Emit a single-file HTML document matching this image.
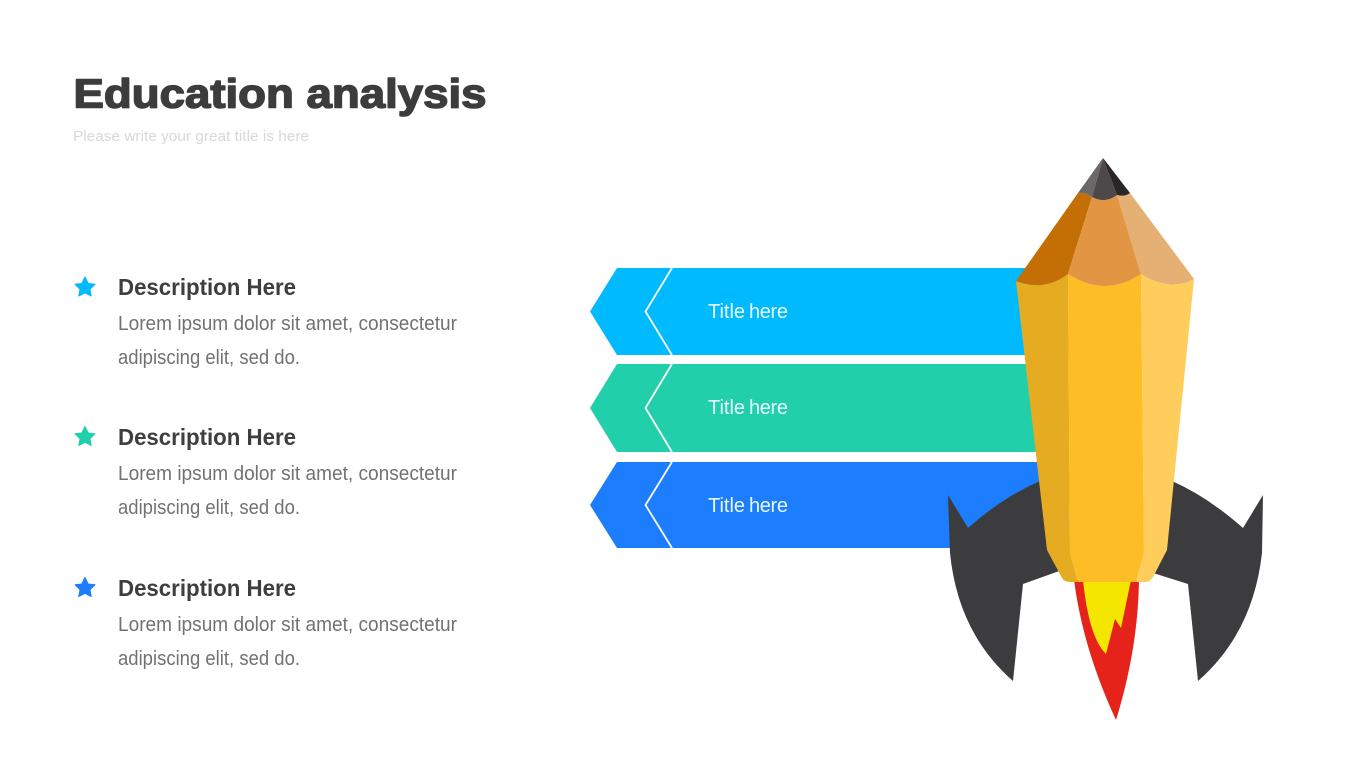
<!DOCTYPE html>
<html lang="en">
<head>
<meta charset="utf-8">
<title>Education analysis</title>
<style>
html,body{margin:0;padding:0;background:#fff;width:1365px;height:768px;overflow:hidden}
svg{display:block}
text{font-family:"Liberation Sans",sans-serif}
.h{font-size:23px;font-weight:700;fill:#3e3e3e}
.b{font-size:20px;fill:#727272}
.t{font-size:20px;fill:#e6f8ff}
</style>
</head>
<body>
<svg width="1365" height="768" viewBox="0 0 1365 768" xmlns="http://www.w3.org/2000/svg">
<rect width="1365" height="768" fill="#fff"/>

<text x="73.500" y="107.500" font-size="41" font-weight="700" fill="#3c3c3c" stroke="#3c3c3c" stroke-width="1.500" stroke-linejoin="round" textLength="413" lengthAdjust="spacingAndGlyphs">Education analysis</text>
<text x="73" y="141" font-size="14.500" fill="#d8d8d8" textLength="236" lengthAdjust="spacingAndGlyphs">Please write your great title is here</text>

<g stroke-linejoin="round" stroke-width="1">
<path transform="translate(85 287.500)" d="M0-10.500L3.200-4L10-3.200L5 1.700L6.200 8.500L0 5.300L-6.200 8.500L-5 1.700L-10-3.200L-3.200-4Z" fill="#00baff" stroke="#00baff"/>
<path transform="translate(85 437)" d="M0-10.500L3.200-4L10-3.200L5 1.700L6.200 8.500L0 5.300L-6.200 8.500L-5 1.700L-10-3.200L-3.200-4Z" fill="#21cfab" stroke="#21cfab"/>
<path transform="translate(85 588)" d="M0-10.500L3.200-4L10-3.200L5 1.700L6.200 8.500L0 5.300L-6.200 8.500L-5 1.700L-10-3.200L-3.200-4Z" fill="#1c7eff" stroke="#1c7eff"/>
</g>

<text class="h" x="118" y="295" textLength="178" lengthAdjust="spacingAndGlyphs">Description Here</text>
<text class="b" x="118" y="330" textLength="339" lengthAdjust="spacingAndGlyphs">Lorem ipsum dolor sit amet, consectetur</text>
<text class="b" x="118" y="364" textLength="182" lengthAdjust="spacingAndGlyphs">adipiscing elit, sed do.</text>

<text class="h" x="118" y="445" textLength="178" lengthAdjust="spacingAndGlyphs">Description Here</text>
<text class="b" x="118" y="480" textLength="339" lengthAdjust="spacingAndGlyphs">Lorem ipsum dolor sit amet, consectetur</text>
<text class="b" x="118" y="514" textLength="182" lengthAdjust="spacingAndGlyphs">adipiscing elit, sed do.</text>

<text class="h" x="118" y="596" textLength="178" lengthAdjust="spacingAndGlyphs">Description Here</text>
<text class="b" x="118" y="631" textLength="339" lengthAdjust="spacingAndGlyphs">Lorem ipsum dolor sit amet, consectetur</text>
<text class="b" x="118" y="665" textLength="182" lengthAdjust="spacingAndGlyphs">adipiscing elit, sed do.</text>

<path d="M617 268H1040V355H617L590 311.500Z" fill="#00baff"/>
<path d="M672 268L645.500 311.500L672 355" fill="none" stroke="#fff" stroke-width="1.800"/>
<path d="M617 364H1050V452H617L590 408Z" fill="#21cfab"/>
<path d="M672 364L645.500 408L672 452" fill="none" stroke="#fff" stroke-width="1.800"/>
<path d="M617 462H1050V548H617L590 505Z" fill="#1c7eff"/>
<path d="M672 462L645.500 505L672 548" fill="none" stroke="#fff" stroke-width="1.800"/>

<text class="t" y="318"><tspan x="708">Title</tspan><tspan x="749" textLength="39">here</tspan></text>
<text class="t" y="414"><tspan x="708">Title</tspan><tspan x="749" textLength="39">here</tspan></text>
<text class="t" y="512"><tspan x="708">Title</tspan><tspan x="749" textLength="39">here</tspan></text>

<path d="M948 495L968 528Q1003 497 1040 481L1062 570L1023 584L1013 681Q958 633 950 553Z" fill="#3c3c3e"/>
<path d="M1263 495L1243 528Q1208 497 1172 481L1150 572L1188 584L1198 681Q1253 633 1262 553Z" fill="#3c3c3e"/>

<path d="M1074 580H1139Q1138 649 1116 720Q1083 649 1074 580Z" fill="#e6231b"/>
<path d="M1083 580H1131L1121 628L1115 619L1106 654Q1089 638 1083 580Z" fill="#f5e600"/>

<path d="M1016 281Q1045 292 1068 274L1070 553L1078 582H1071Q1064 582 1062 578L1047 550Z" fill="#e5ac21"/>
<path d="M1068 274Q1105 298 1141 274L1144 553L1136 582H1078L1070 553Z" fill="#fdbd26"/>
<path d="M1141 274Q1170 292 1194 279L1167 550L1153 577Q1150 582 1146 582H1136L1144 553Z" fill="#ffcd5c"/>

<path d="M1078 193Q1085 192 1092 197L1068 274Q1045 292 1016 281Z" fill="#c46f06"/>
<path d="M1092 197Q1105 204 1117 195L1141 274Q1105 298 1068 274Z" fill="#e29644"/>
<path d="M1117 195Q1125 197 1130 193L1194 279Q1170 292 1141 274Z" fill="#e5b073"/>

<path d="M1103 158L1092 197Q1085 192 1078 193Z" fill="#6b686a"/>
<path d="M1103 158L1117 195Q1105 204 1092 197Z" fill="#4d494b"/>
<path d="M1103 158L1130 193Q1125 197 1117 195Z" fill="#2a2527"/>
</svg>
</body>
</html>
